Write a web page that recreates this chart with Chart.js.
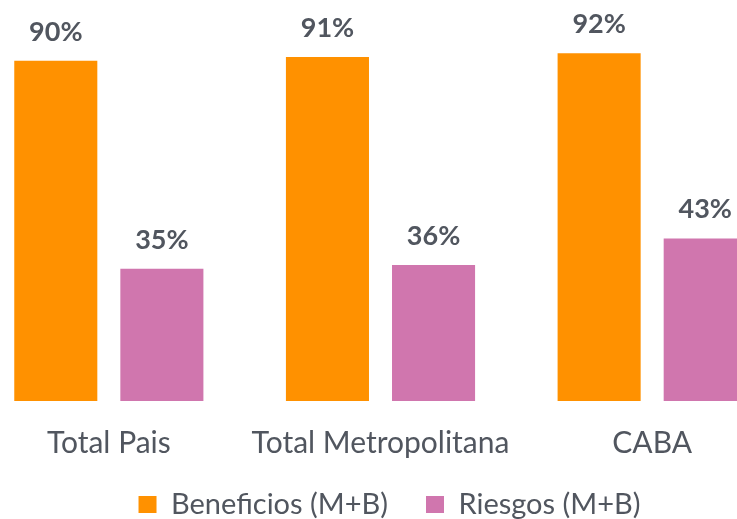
<!DOCTYPE html>
<html><head><meta charset="utf-8">
<script src="https://cdn.jsdelivr.net/npm/chart.js@4/dist/chart.umd.min.js"></script>
<style>
html,body{margin:0;padding:0;background:#fff;overflow:hidden;width:737px;height:519px;}
#wrap{position:absolute;left:-27px;top:0;width:815px;height:519px;}
</style></head>
<body><div id="wrap"><canvas id="c"></canvas></div>
<script>
const categories = ['Total Pais', 'Total Metropolitana', 'CABA'];
const beneficios = [90, 91, 92];
const riesgos = [35, 36, 43];
const seriesNames = ['Beneficios (M+B)', 'Riesgos (M+B)'];
const textColor = '#51565f';
const fontFam = 'Lato, "Open Sans", sans-serif';

const labelPlugin = {
  id: 'valueLabels',
  afterDatasetsDraw(chart) {
    const ctx = chart.ctx;
    ctx.save();
    ctx.fillStyle = textColor;
    ctx.font = 'bold 27px ' + fontFam;
    ctx.textAlign = 'center';
    ctx.textBaseline = 'alphabetic';
    chart.data.datasets.forEach((ds, i) => {
      chart.getDatasetMeta(i).data.forEach((bar, j) => {
        ctx.fillText(ds.data[j] + '%', bar.x, bar.y - 20);
      });
    });
    ctx.restore();
  }
};

const legendShift = {
  id: 'legendShift',
  afterLayout(chart) {
    const lg = chart.legend;
    if (lg) { lg.left += 9; lg.right += 9; lg.top -= 18; lg.bottom -= 18; }
  }
};

new Chart(document.getElementById('c'), {
  type: 'bar',
  data: {
    labels: categories,
    datasets: [
      {label: seriesNames[0], data: beneficios, backgroundColor: '#FF9100', categoryPercentage: 0.781, barPercentage: 0.783},
      {label: seriesNames[1], data: riesgos, backgroundColor: '#D076AE', categoryPercentage: 0.781, barPercentage: 0.783}
    ]
  },
  options: {
    responsive: true,
    maintainAspectRatio: false,
    animation: false,
    layout: {padding: {top: 23, left: 0, right: 0, bottom: -28}},
    plugins: {
      legend: {
        position: 'bottom',
        labels: {boxWidth: 18, boxHeight: 17, color: textColor, font: {size: 29, family: fontFam}, padding: 38}
      },
      tooltip: {enabled: false}
    },
    scales: {
      x: {
        grid: {display: false, drawTicks: false},
        border: {display: false},
        ticks: {color: textColor, font: {size: 30, family: fontFam}, padding: 24},
        afterFit(scale) { scale.height = 69; }
      },
      y: {
        display: false,
        min: 0, max: 100
      }
    }
  },
  plugins: [labelPlugin, legendShift]
});
</script></body></html>
